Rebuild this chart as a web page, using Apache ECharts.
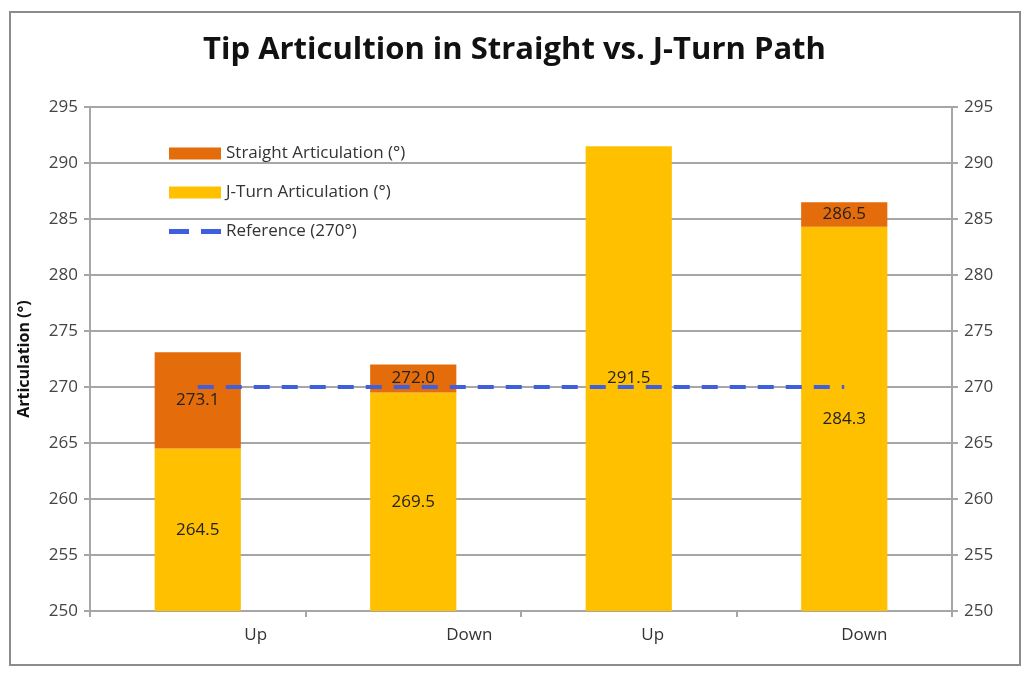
<!DOCTYPE html>
<html><head><meta charset="utf-8">
<script src="https://cdn.jsdelivr.net/npm/echarts@6/dist/echarts.min.js"></script>
<style>html,body{margin:0;padding:0;background:#fff}#c{width:1029px;height:675px}</style>
</head><body><div id="c"></div>
<script>
const categories = ['Up', 'Down', 'Up', 'Down'];
const straightValues = [273.1, 272.0, null, 286.5];
const jturnValues = [264.5, 269.5, 291.5, 284.3];
const referenceValues = [270, 270, 270, 270];
const yTicks = [250, 255, 260, 265, 270, 275, 280, 285, 290, 295];

const labelShift = [58, 56, 24, 20];
const FONT = '"Open Sans", sans-serif';
const chart = echarts.init(document.getElementById('c'));
const straightDelta = straightValues.map((s, i) => s == null ? null : +(s - jturnValues[i]).toFixed(2));

const yAxisBase = {
  type: 'value', min: yTicks[0], max: yTicks[yTicks.length - 1], interval: 5,
  axisLine: {show: true, lineStyle: {color: '#a6a6a6', width: 2}},
  axisTick: {show: true, length: 6, inside: false, lineStyle: {color: '#a6a6a6', width: 2}},
  axisLabel: {color: '#444', fontSize: 17, fontFamily: FONT, margin: 12},
};

chart.setOption({
  animation: false,
  backgroundColor: '#fff',
  title: {
    text: 'Tip Articultion in Straight vs. J-Turn Path',
    left: 'center', top: 30,
    textStyle: {fontFamily: FONT, fontWeight: 'bold', fontSize: 31, color: '#111'}
  },
  graphic: [{
    type: 'rect', shape: {x: 10, y: 12, width: 1010, height: 653},
    style: {fill: 'none', stroke: '#8c8c8c', lineWidth: 2}, silent: true, z: -1
  }],
  legend: {
    orient: 'vertical', left: 164, top: 140, itemGap: 22,
    itemWidth: 52, itemHeight: 12,
    textStyle: {fontFamily: FONT, fontSize: 17, color: '#333'},
    data: [
      {name: 'Straight Articulation (°)', icon: 'rect'},
      {name: 'J-Turn Articulation (°)', icon: 'rect'},
      {name: 'Reference (270°)', icon: 'path://M0,0H20V5H0Z M32,0H52V5H32Z', itemHeight: 5}
    ]
  },
  grid: {left: 90, right: 77, top: 107, bottom: 64},
  xAxis: {
    type: 'category', data: categories,
    axisLine: {lineStyle: {color: '#a6a6a6', width: 2}},
    axisTick: {show: true, length: 6, lineStyle: {color: '#a6a6a6', width: 2}},
    axisLabel: {
      color: '#333', fontSize: 17, fontFamily: FONT, margin: 16,
      formatter: (v, i) => '{p' + i + '|' + v + '}',
      rich: Object.fromEntries(labelShift.map((s, i) => ['p' + i, {padding: [0, 0, 0, s * 2], fontSize: 17, fontFamily: FONT, color: '#333'}]))
    }
  },
  yAxis: [
    Object.assign({}, yAxisBase, {
      position: 'left',
      name: 'Articulation (°)', nameLocation: 'middle', nameGap: 58,
      nameTextStyle: {fontFamily: FONT, fontWeight: 'bold', fontSize: 16, color: '#111'},
      splitLine: {show: true, lineStyle: {color: '#a6a6a6', width: 2}}
    }),
    Object.assign({}, yAxisBase, {position: 'right', splitLine: {show: false}})
  ],
  series: [
    {
      name: 'J-Turn Articulation (°)', type: 'bar', stack: 'a', data: jturnValues,
      barWidth: '40%', itemStyle: {color: '#FFC000'},
      label: {show: true, position: 'inside', color: '#222', fontSize: 17, fontFamily: FONT,
        formatter: p => p.value.toFixed(1)}
    },
    {
      name: 'Straight Articulation (°)', type: 'bar', stack: 'a', data: straightDelta,
      barWidth: '40%', itemStyle: {color: '#E46C0A'},
      label: {show: true, position: 'inside', color: '#222', fontSize: 17, fontFamily: FONT,
        formatter: p => straightValues[p.dataIndex].toFixed(1)}
    },
    {
      name: 'Reference (270°)', type: 'line', data: referenceValues, symbol: 'none',
      lineStyle: {color: '#3F5FE0', width: 4, type: [16, 12]}, itemStyle: {color: '#3F5FE0'}, z: 5
    }
  ]
});
</script></body></html>
